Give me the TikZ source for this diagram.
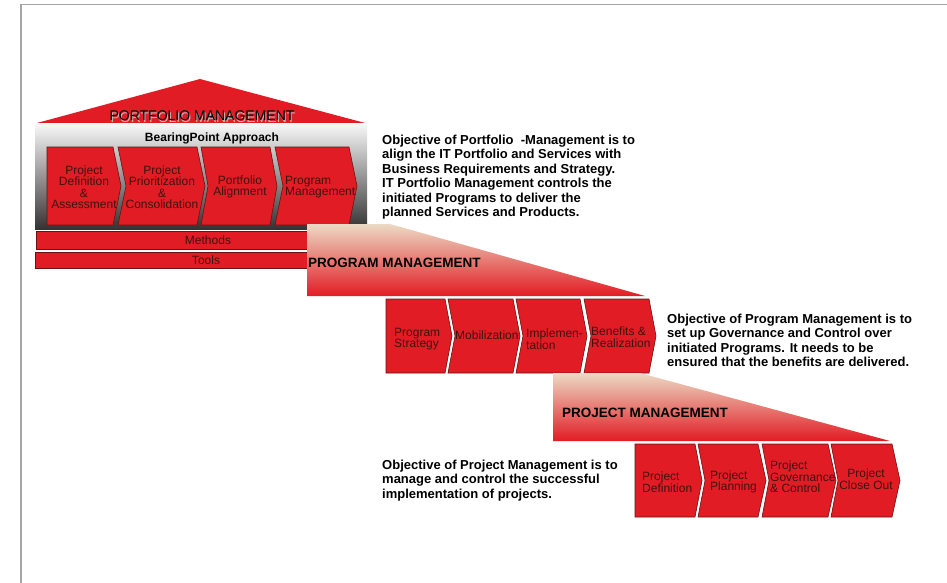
\documentclass[tikz,border=0pt]{standalone}
\usepackage{fontspec}
\setmainfont{Liberation Sans}
\definecolor{pmred}{RGB}{226,28,36}
\definecolor{chevline}{RGB}{105,18,18}
\definecolor{chevtext}{RGB}{62,18,18}
\definecolor{beige}{RGB}{236,218,196}
\definecolor{framegray}{RGB}{165,165,165}

% chevron with a flat back: x0, x1 (body end), tip, top, bottom
\newcommand{\chevflat}[5]{%
  \draw[chev] (#1,#4) -- (#2,#4) -- (#3,{(#4+#5)/2}) -- (#2,#5) -- (#1,#5) -- cycle;}
% chevron with a notched back: x0, notch, x1 (body end), tip, top, bottom
\newcommand{\chevnotch}[6]{%
  \draw[chev] (#1,#5) -- (#3,#5) -- (#4,{(#5+#6)/2}) -- (#3,#6) -- (#1,#6) -- (#2,{(#5+#6)/2}) -- cycle;}

\begin{document}
\begin{tikzpicture}[x=1pt,y=-1pt,
  chev/.style={fill=pmred,draw=chevline,line width=0.6pt},
  bar/.style={fill=pmred,draw=chevline,line width=0.6pt},
  chevlabel/.style={text=chevtext,font=\fontsize{12}{11.5}\selectfont,inner sep=0pt,align=center},
  chevlabelL/.style={chevlabel,align=left,anchor=west},
  objective/.style={font=\bfseries\fontsize{13}{14.5}\selectfont,align=left,anchor=north west,inner sep=0pt},
  stagetitle/.style={font=\bfseries\fontsize{13.5}{14}\selectfont,inner sep=0pt,anchor=base west}]

\useasboundingbox (0,0) rectangle (947,583);
\draw[framegray,line width=1.2pt] (947,4.5) -- (21,4.5) -- (21,583);

% ---------- Portfolio management house ----------
\fill[pmred] (35,123.5) -- (200,79) -- (367,123.5) -- cycle;
\node[font=\fontsize{14}{14}\selectfont,text=gray!55,anchor=base,inner sep=0pt] (pftitleshadow) at (203,122) {PORTFOLIO MANAGEMENT};
\node[font=\fontsize{14}{14}\selectfont,text=black,anchor=base,inner sep=0pt] (pftitle) at (202,121) {PORTFOLIO MANAGEMENT};

\shade[top color=gray!6,middle color=gray!35,bottom color=black!80] (35,124) rectangle (367,229);
\node[font=\bfseries\fontsize{12}{12}\selectfont,anchor=base,inner sep=0pt] (bpa) at (212,141.7) {BearingPoint Approach};

\chevflat{47}{113}{121}{147}{225}
\chevnotch{118}{126}{197}{205}{147}{225}
\chevnotch{201}{208}{270}{277}{147}{225}
\chevnotch{275}{283}{349}{357}{147}{225}

\node[chevlabel] (pf1) at (84,187) {Project\\Definition\\\&\\Assessment};
\node[chevlabel] (pf2) at (162,187) {Project\\Prioritization\\\&\\Consolidation};
\node[chevlabel] (pf3) at (240,187) {Portfolio\\Alignment};
\node[chevlabelL] (pf4) at (285,187) {Program\\Management};

\draw[bar] (36,231.5) rectangle (367,249.5);
\node[chevlabel] (methods) at (208,240.5) {Methods};
\draw[bar] (35,252) rectangle (367,268.5);
\node[chevlabel] (tools) at (206,260.5) {Tools};

\node[objective] (pfobj) at (382,134.5) {Objective of Portfolio\ \ -Management is to\\align the IT Portfolio and Services with\\Business Requirements and Strategy.\\IT Portfolio Management controls the\\initiated Programs to deliver the\\planned Services and Products.};

% ---------- Program management ----------
\shade[top color=beige,bottom color=pmred] (307,224) -- (390,224) -- (645,296) -- (307,296) -- cycle;
\node[stagetitle] (pgtitle) at (308,267) {PROGRAM MANAGEMENT};

\chevflat{386}{445}{452}{299}{373}
\chevnotch{448}{455}{513}{520}{299}{373}
\chevnotch{516}{523}{580}{587}{299}{373}
\chevnotch{584}{591}{649}{656}{299}{373}

\node[chevlabelL] (pg1) at (394,339) {Program\\Strategy};
\node[chevlabelL] (pg2) at (455,335) {Mobilization};
\node[chevlabelL] (pg3) at (526,339) {Implemen-\\tation};
\node[chevlabelL] (pg4) at (591,337) {Benefits \&\\Realization};

\node[objective] (pgobj) at (667,313.5) {Objective of Program Management is to\\set up Governance and Control over\\initiated Programs. It needs to be\\ensured that the benefits are delivered.};

% ---------- Project management ----------
\shade[top color=beige,bottom color=pmred] (553,373) -- (640,373) -- (890,441) -- (553,441) -- cycle;
\node[stagetitle] (pjtitle) at (562,417) {PROJECT MANAGEMENT};

\chevflat{635}{695}{702}{444}{517}
\chevnotch{698}{705}{758}{766}{444}{517}
\chevnotch{762}{769}{828}{836}{444}{517}
\chevnotch{831}{838}{892}{900}{444}{517}

\node[chevlabelL] (pj1) at (642,482) {Project\\Definition};
\node[chevlabelL] (pj2) at (710,482) {Project\\Planning};
\node[chevlabelL] (pj3) at (770,477) {Project\\Governance\\\& Control};
\node[chevlabel] (pj4) at (866,479) {Project\\Close Out};

\node[objective] (pjobj) at (382,459.5) {Objective of Project Management is to\\manage and control the successful\\implementation of projects.};
\end{tikzpicture}
\end{document}
